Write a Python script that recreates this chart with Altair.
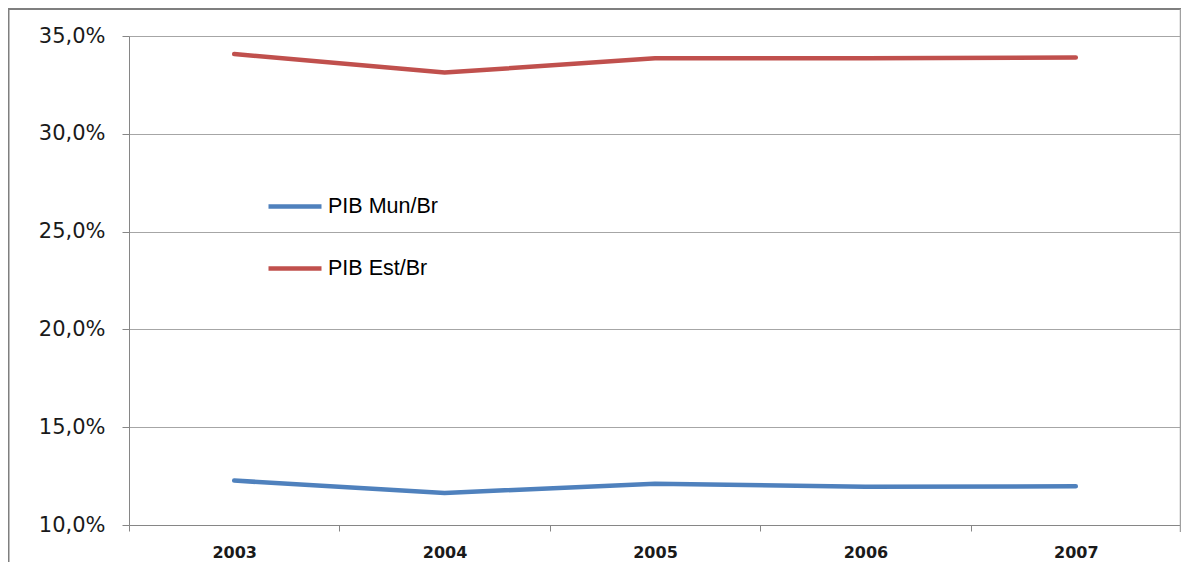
import altair as alt
import pandas as pd

years = ["2003", "2004", "2005", "2006", "2007"]
pib_mun_br = [12.27, 11.64, 12.11, 11.96, 11.98]
pib_est_br = [34.08, 33.13, 33.86, 33.86, 33.90]
series_names = ["PIB Mun/Br", "PIB Est/Br"]
series_colors = ["#4F81BD", "#C0504D"]
y_ticks = [10, 15, 20, 25, 30, 35]

rows = []
for name, vals in zip(series_names, [pib_mun_br, pib_est_br]):
    for yr, v in zip(years, vals):
        rows.append({"ano": yr, "valor": v, "serie": name})
df = pd.DataFrame(rows)

W, H = 1052, 489

lines = alt.Chart(df).mark_line(strokeWidth=4.5, strokeCap="round", strokeJoin="round").encode(
    x=alt.X("ano:N", sort=years, title=None,
            scale=alt.Scale(paddingInner=0, paddingOuter=0),
            axis=alt.Axis(labelAngle=0, tickBand="extent", ticks=True, tickSize=6,
                          tickColor="#868686", domainColor="#868686", labelPadding=13,
                          labelFont="DejaVu Sans", labelFontSize=16, labelFontWeight="bold",
                          labelColor="#1a1a1a", grid=False)),
    y=alt.Y("valor:Q", title=None,
            scale=alt.Scale(domain=[10, 35], nice=False, zero=False),
            axis=alt.Axis(values=y_ticks, tickSize=7, tickColor="#868686", domainColor="#868686",
                          labelExpr="replace(format(datum.value, '.1f'), '.', ',') + '%'",
                          labelFont="DejaVu Sans", labelFontSize=21, labelColor="#1a1a1a",
                          labelPadding=17, grid=True, gridColor="#a6a6a6", gridWidth=1)),
    color=alt.Color("serie:N", sort=series_names,
                    scale=alt.Scale(domain=series_names, range=series_colors),
                    legend=alt.Legend(title=None, orient="none", legendX=137, legendY=141.5,
                                      symbolType="stroke", symbolSize=2809, symbolStrokeWidth=4.5,
                                      labelFont="Liberation Sans", labelFontSize=21.5,
                                      labelColor="#000000", labelOffset=4, rowPadding=22,
                                      padding=0)),
)

frame_df = pd.DataFrame({"k": [0]})
frame_color = "#7f7f7f"
top_rule = alt.Chart(frame_df).mark_rule(color=frame_color, strokeWidth=2).encode(
    x=alt.value(-121), x2=alt.value(W + 2), y=alt.value(-27))
left_rule = alt.Chart(frame_df).mark_rule(color=frame_color, strokeWidth=2).encode(
    x=alt.value(-120.5), y=alt.value(-27), y2=alt.value(H + 60))
right_rule = alt.Chart(frame_df).mark_rule(color="#a0a0a0", strokeWidth=1.5).encode(
    x=alt.value(W - 0.5), y=alt.value(-27), y2=alt.value(H + 7))

chart = alt.layer(lines, top_rule, left_rule, right_rule).properties(
    width=W, height=H,
    autosize=alt.AutoSizeParams(type="none"),
    padding={"left": 121, "top": 28, "right": 0, "bottom": 37},
).configure_view(stroke=None).configure(background="#ffffff")

chart.save("out.html", embed_options={"renderer": "svg", "actions": False})
